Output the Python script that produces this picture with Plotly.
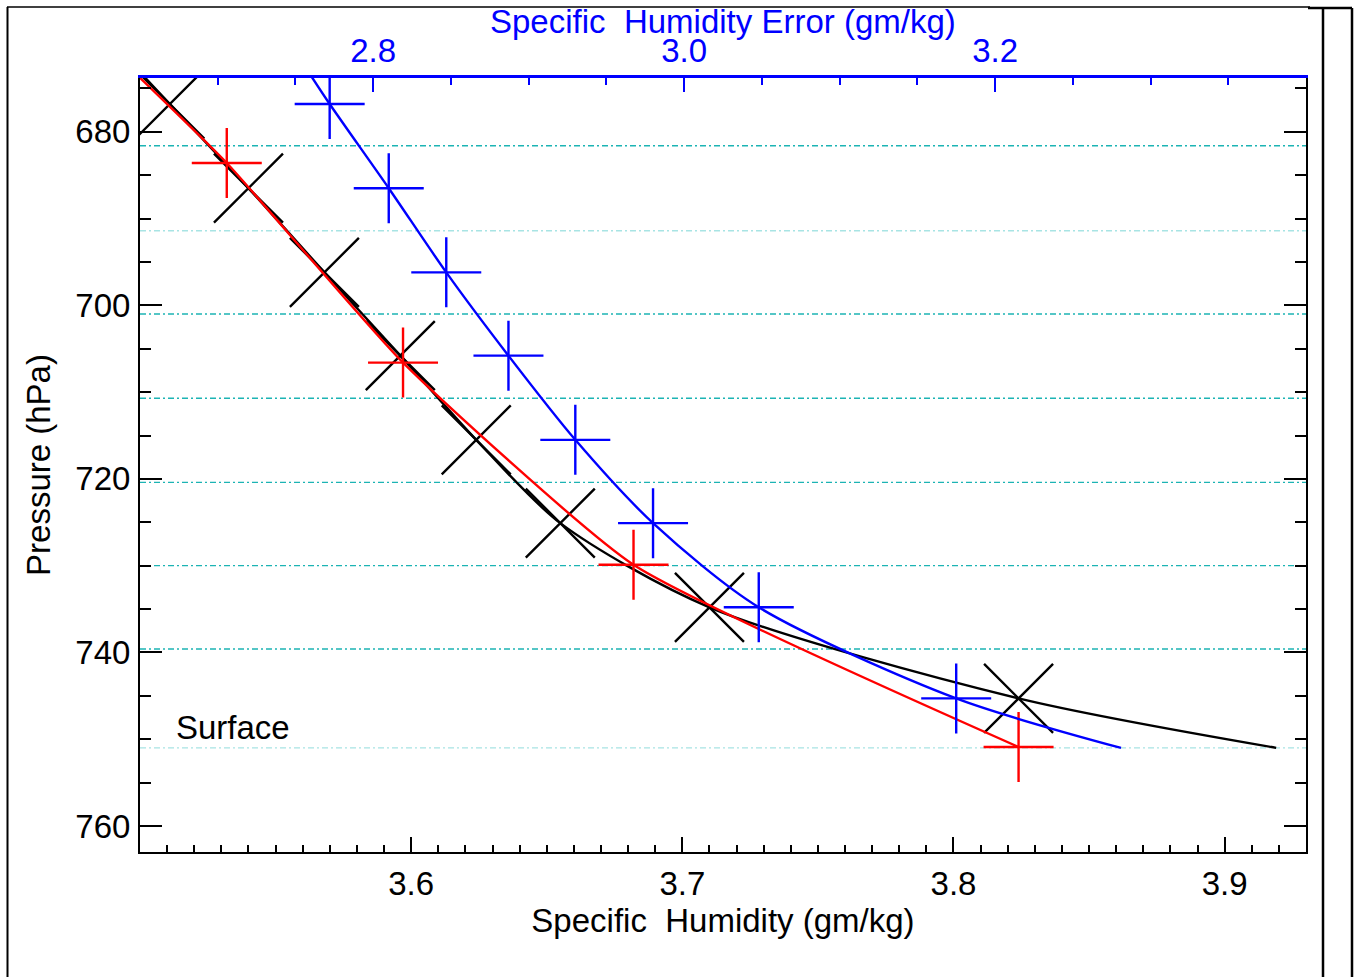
import plotly.graph_objects as go

# ---------------- data ----------------
# pressure levels of the marked points (hPa)
p_levels = [676.8, 686.5, 696.2, 705.8, 715.5, 725.1, 734.8, 745.3]
# black X markers: specific humidity (gm/kg)
q_black = [3.511, 3.540, 3.568, 3.596, 3.624, 3.655, 3.710, 3.824]
# blue plus markers: specific humidity error (gm/kg), top axis
err_blue = [2.772, 2.810, 2.847, 2.887, 2.930, 2.980, 3.048, 3.175]
# red plus markers
p_red = [683.6, 706.6, 729.9, 750.9]
q_red = [3.532, 3.597, 3.682, 3.824]

# curve end points (top of the profile, beyond the plotted range, and surface)
p_top = 673.0
p_surface = 751.0
q_black_top, q_black_sfc = 3.4996, 3.919
q_red_top = 3.4974
err_blue_top, err_blue_sfc = 2.758, 3.281

# dotted pressure levels (hPa)
grid_levels = [681.6, 691.4, 701.0, 710.7, 720.4, 730.0, 739.6, 751.0]
grid_light = [False, True, False, False, False, False, False, True]

# axis ranges / ticks
x_range = [3.5, 3.93]
x_ticks = [3.6, 3.7, 3.8, 3.9]
x2_range = [2.65, 3.40]
x2_ticks = [2.8, 3.0, 3.2]
y_range = [763.0, 673.8]
y_ticks = [680, 700, 720, 740, 760]

# ---------------- figure ----------------
W, H = 1357, 977
ML, MR, MT, MB = 140, W - 1306, 78, H - 852
FONT = "Liberation Sans, Arial, Helvetica, sans-serif"
FS = 33
LW = 2.4

fig = go.Figure()

# black curve + markers
fig.add_trace(go.Scatter(
    x=[q_black_top] + q_black + [q_black_sfc],
    y=[p_top] + p_levels + [p_surface],
    mode="lines", line=dict(color="black", width=LW, shape="spline", smoothing=0.8),
    hoverinfo="skip", showlegend=False))
fig.add_trace(go.Scatter(
    x=q_black, y=p_levels, mode="markers",
    marker=dict(symbol="x-thin", size=69, line=dict(color="black", width=LW)),
    showlegend=False))

# red curve + markers
fig.add_trace(go.Scatter(
    x=[q_red_top] + q_red, y=[p_top] + p_red,
    mode="lines", line=dict(color="#ff0000", width=LW, shape="spline", smoothing=0.5),
    hoverinfo="skip", showlegend=False))
fig.add_trace(go.Scatter(
    x=q_red, y=p_red, mode="markers",
    marker=dict(symbol="cross-thin", size=50, line=dict(color="#ff0000", width=LW)),
    showlegend=False))

# blue curve + markers (top axis)
fig.add_trace(go.Scatter(
    x=[err_blue_top] + err_blue + [err_blue_sfc],
    y=[p_top] + p_levels + [p_surface],
    xaxis="x2", yaxis="y",
    mode="lines", line=dict(color="#0000ff", width=LW, shape="spline", smoothing=0.8),
    hoverinfo="skip", showlegend=False))
fig.add_trace(go.Scatter(
    x=err_blue, y=p_levels, xaxis="x2", yaxis="y", mode="markers",
    marker=dict(symbol="cross-thin", size=50, line=dict(color="#0000ff", width=LW)),
    showlegend=False))

shapes = []
for lev, light in zip(grid_levels, grid_light):
    shapes.append(dict(type="line", xref="paper", yref="y", x0=0, x1=1, y0=lev, y1=lev,
                       line=dict(color="#a8e4e4" if light else "#1cb4b4", width=1.4,
                                 dash="6px,3px,2px,3px"),
                       layer="below"))

# page/table frame around the chart (pixel positions converted to paper)
PW = W - ML - MR
PH = H - MT - MB
def px(x):
    return (x - ML) / PW
def py(y):
    return (H - MB - y) / PH
frame = [
    (7.5, 7, 7.5, 977, 2),
    (7, 7, 1310, 7, 1.5),
    (1308, 8, 1352, 8, 2.5),
    (1323, 8, 1323, 977, 2.5),
    (1352, 8, 1352, 977, 2.5),
]
for x0, y0, x1, y1, w in frame:
    shapes.append(dict(type="line", xref="paper", yref="paper",
                       x0=px(x0), y0=py(y0), x1=px(x1), y1=py(y1),
                       line=dict(color="black", width=w)))

fig.update_layout(
    width=W, height=H,
    margin=dict(l=ML, r=MR, t=MT, b=MB, pad=0, autoexpand=False),
    paper_bgcolor="white", plot_bgcolor="white",
    font=dict(family=FONT, size=FS, color="black"),
    shapes=shapes,
    showlegend=False,
    xaxis=dict(
        range=x_range, tickmode="array", tickvals=x_ticks, tickformat=".1f",
        showgrid=False, zeroline=False, automargin=False,
        showline=True, linecolor="black", linewidth=2, mirror=False,
        ticks="inside", ticklen=15, tickwidth=2, tickcolor="black",
        minor=dict(dtick=0.01, tick0=3.5, ticks="inside", ticklen=7, tickwidth=2,
                   tickcolor="black", showgrid=False),
        tickfont=dict(size=FS, color="black"),
        ticklabelstandoff=1,
        title=dict(text="Specific\u00a0 Humidity (gm/kg)", font=dict(size=FS, color="black"), standoff=1),
    ),
    xaxis2=dict(
        range=x2_range, overlaying="x", side="top", anchor="y",
        tickmode="array", tickvals=x2_ticks, tickformat=".1f",
        showgrid=False, zeroline=False, automargin=False,
        showline=True, linecolor="#0000ff", linewidth=3,
        ticks="inside", ticklen=14, tickwidth=2, tickcolor="#0000ff",
        minor=dict(dtick=0.05, tick0=2.65, ticks="inside", ticklen=7, tickwidth=2,
                   tickcolor="#0000ff", showgrid=False),
        tickfont=dict(size=FS, color="#0000ff"),
        ticklabelstandoff=0,
    ),
    yaxis=dict(
        range=y_range, tickmode="array", tickvals=y_ticks,
        showgrid=False, zeroline=False, automargin=False,
        showline=True, linecolor="black", linewidth=2, mirror="ticks",
        ticks="inside", ticklen=22, tickwidth=2, tickcolor="black",
        minor=dict(dtick=5, tick0=680, ticks="inside", ticklen=11, tickwidth=2,
                   tickcolor="black", showgrid=False),
        tickfont=dict(size=FS, color="black"),
        ticklabelstandoff=1,
        title=dict(text="Pressure (hPa)", font=dict(size=FS, color="black"), standoff=15),
    ),
    annotations=[
        dict(text="Surface", x=3.5125, y=748.6, xref="x", yref="y",
             xanchor="left", yanchor="middle", showarrow=False,
             font=dict(size=FS, color="black")),
        dict(text="Specific\u00a0 Humidity Error (gm/kg)", x=px(723), y=py(21),
             xref="paper", yref="paper", xanchor="center", yanchor="middle",
             showarrow=False, font=dict(size=FS, color="#0000ff")),
    ],
)

fig.write_html("out.html", config={"displayModeBar": False},
               post_script="document.body.style.margin='0';")
